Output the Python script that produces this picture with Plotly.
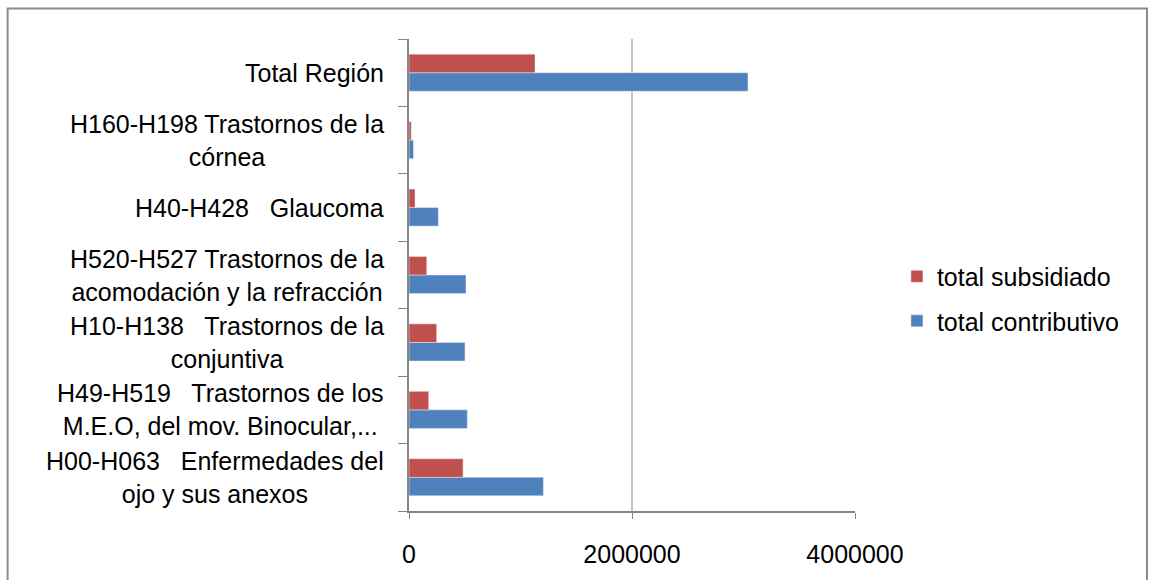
import plotly.graph_objects as go

# Categories listed bottom-to-top along the category axis
categories = [
    "H00-H063   Enfermedades del<br>ojo y sus anexos",
    "H49-H519   Trastornos de los<br>M.E.O, del mov. Binocular,...",
    "H10-H138   Trastornos de la<br>conjuntiva",
    "H520-H527 Trastornos de la<br>acomodación y la refracción",
    "H40-H428   Glaucoma",
    "H160-H198 Trastornos de la<br>córnea",
    "Total Región",
]
cat_ids = ["H00", "H49", "H10", "H520", "H40", "H160", "TOTAL"]

total_contributivo = [1205000, 523000, 502000, 511000, 263000, 40000, 3040000]
total_subsidiado = [485000, 177000, 248000, 159000, 54000, 20000, 1130000]

x_ticks = [0, 2000000, 4000000]
x_tick_text = ["0", "2000000", "4000000"]

FONT = "Arial, Liberation Sans, sans-serif"
AXIS_GREY = "#868686"

fig = go.Figure()
fig.add_trace(go.Bar(
    y=cat_ids, x=total_contributivo, orientation="h",
    name="total contributivo", marker_color="#4F81BD",
    legendgroup="c", legendrank=2,
))
fig.add_trace(go.Bar(
    y=cat_ids, x=total_subsidiado, orientation="h",
    name="total subsidiado", marker_color="#C0504D",
    legendgroup="s", legendrank=1,
))

# Category labels, centred line by line, right edge just left of the axis
annotations = []
for cid, label in zip(cat_ids, categories):
    annotations.append(dict(
        x=-0.052, xref="paper", y=cid, yref="y",
        text=label, showarrow=False, xanchor="right", yanchor="middle",
        align="center", font=dict(family=FONT, size=25, color="#000000"),
    ))

# Outer chart border
shapes = [dict(
    type="rect", xref="paper", yref="paper",
    x0=-0.9, x1=1.6547, y0=-0.2, y1=1.0646,
    line=dict(color="#8c8c8c", width=2), fillcolor="rgba(0,0,0,0)",
    layer="below",
)]

fig.update_layout(
    width=1155, height=580,
    margin=dict(l=409, r=300, t=39, b=61),
    paper_bgcolor="white", plot_bgcolor="white",
    barmode="group", bargap=0.45, bargroupgap=0,
    font=dict(family=FONT, size=25, color="#000000"),
    showlegend=True,
    legend=dict(
        x=1.094, xanchor="left", y=0.45, yanchor="middle",
        traceorder="grouped", tracegroupgap=9,
        font=dict(family=FONT, size=25, color="#000000"),
        bgcolor="rgba(0,0,0,0)",
    ),
    annotations=annotations,
    shapes=shapes,
    xaxis=dict(
        range=[0, 4000000], tickvals=x_ticks, ticktext=x_tick_text,
        showgrid=True, gridcolor="#c4c4c4", gridwidth=1.5,
        showline=True, linecolor=AXIS_GREY, linewidth=1.5,
        ticks="outside", ticklen=6, tickcolor=AXIS_GREY,
        zeroline=False, ticklabelstandoff=14,
        tickfont=dict(family=FONT, size=25, color="#000000"),
    ),
    yaxis=dict(
        type="category", categoryorder="array", categoryarray=cat_ids,
        range=[-0.5, 6.5], showticklabels=False,
        showline=True, linecolor=AXIS_GREY, linewidth=1.5,
        ticks="outside", ticklen=9, tickcolor=AXIS_GREY, tickson="boundaries",
        showgrid=False, zeroline=False,
    ),
)

fig.write_html("out.html")
